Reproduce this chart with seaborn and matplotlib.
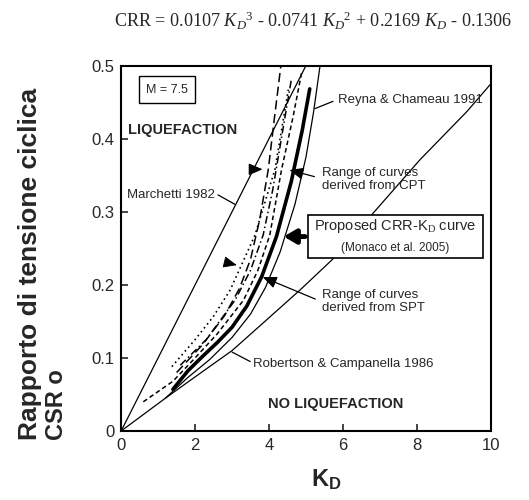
import matplotlib
matplotlib.use('Agg')
import matplotlib.pyplot as plt
import seaborn as sns
from matplotlib.patches import Rectangle

# Curve (K_D, CRR)
kd_marchetti = [0, 1, 2, 3, 4, 5]
crr_marchetti = [0, 0.1, 0.2, 0.3, 0.4, 0.5]

kd_robertson = [0, 1.2, 2.0, 3.0, 4.0, 4.84, 5.7, 6.78, 8.08, 9.35, 10]
crr_robertson = [0, 0.045, 0.074, 0.11, 0.155, 0.193, 0.234, 0.296, 0.371, 0.437, 0.475]

kd_reyna = [1.2, 1.8, 2.4, 3.0, 3.5, 3.9, 4.3, 4.7, 5.0, 5.2, 5.38]
crr_reyna = [0.045, 0.073, 0.098, 0.128, 0.16, 0.196, 0.245, 0.31, 0.375, 0.435, 0.5]

kd_proposed = [1.4, 1.8, 2.2, 2.6, 3.0, 3.4, 3.8, 4.2, 4.6, 4.9, 5.1]
crr_proposed = [0.057, 0.082, 0.102, 0.121, 0.142, 0.171, 0.211, 0.266, 0.341, 0.412, 0.468]

# fascio di curve da CPT / SPT
kd_range1 = [1.5, 2.2, 2.8, 3.2, 3.5, 3.75, 3.98, 4.15, 4.32]
crr_range1 = [0.08, 0.118, 0.158, 0.195, 0.235, 0.29, 0.358, 0.43, 0.5]
kd_range2 = [1.37, 2.0, 2.5, 2.95, 3.62, 4.16, 4.52]
crr_range2 = [0.088, 0.125, 0.157, 0.193, 0.268, 0.358, 0.467]
kd_range3 = [1.6, 2.3, 3.08, 3.5, 3.84, 4.1, 4.4, 4.6]
crr_range3 = [0.09, 0.125, 0.179, 0.22, 0.268, 0.33, 0.42, 0.48]
kd_range4 = [0.6, 1.4, 2.0, 2.6, 3.31, 3.7, 4.02, 4.34, 4.65, 4.88]
crr_range4 = [0.04, 0.068, 0.1, 0.133, 0.179, 0.22, 0.268, 0.358, 0.43, 0.49]

x_ticks = [0, 2, 4, 6, 8, 10]
y_ticks = [0, 0.1, 0.2, 0.3, 0.4, 0.5]
y_tick_labels = ['0', '0.1', '0.2', '0.3', '0.4', '0.5']

sns.set_theme(style='ticks')
plt.rcParams['font.family'] = ['Liberation Sans', 'DejaVu Sans']
plt.rcParams['mathtext.fontset'] = 'custom'
plt.rcParams['mathtext.rm'] = 'Liberation Serif'
plt.rcParams['mathtext.it'] = 'Liberation Serif:italic'
plt.rcParams['mathtext.bf'] = 'Liberation Sans:bold'

fig = plt.figure(figsize=(5.29, 5.0), dpi=100)
ax = fig.add_axes([0.229, 0.138, 0.699, 0.731])

curves = [
    (kd_marchetti, crr_marchetti, '-', 0.9),
    (kd_robertson, crr_robertson, '-', 0.9),
    (kd_reyna, crr_reyna, '-', 0.9),
    (kd_range1, crr_range1, (0, (6, 3)), 1.1),
    (kd_range2, crr_range2, (0, (1, 2)), 1.2),
    (kd_range3, crr_range3, (0, (5, 2, 1, 2)), 1.1),
    (kd_range4, crr_range4, (0, (3, 2)), 1.1),
    (kd_proposed, crr_proposed, '-', 2.6),
]
for xs, ys, ls, lw in curves:
    sns.lineplot(x=xs, y=ys, ax=ax, color='black', linestyle=ls, linewidth=lw,
                 sort=False, estimator=None)

ax.set_xlim(0, 10)
ax.set_ylim(0, 0.5)
ax.set_xticks(x_ticks)
ax.set_xticklabels([str(t) for t in x_ticks])
ax.set_yticks(y_ticks)
ax.set_yticklabels(y_tick_labels)
ax.tick_params(direction='in', length=5, width=1.2, labelsize=12, pad=5)
for s in ax.spines.values():
    s.set_linewidth(1.5)
    s.set_color('black')

# etichette interne
ax.text(1.24, 0.467, 'M = 7.5', fontsize=9, ha='center', va='center',
        bbox=dict(boxstyle='square,pad=0.6', fc='white', ec='black', lw=1))
ax.text(0.19, 0.412, 'LIQUEFACTION', fontsize=10.5, fontweight='bold', va='center')
ax.text(3.97, 0.037, 'NO LIQUEFACTION', fontsize=10.5, fontweight='bold', va='center')
ax.text(0.16, 0.323, 'Marchetti 1982', fontsize=9.5, va='center')
ax.text(5.86, 0.453, 'Reyna & Chameau 1991', fontsize=9.5, va='center')
ax.text(5.43, 0.344, 'Range of curves\nderived from CPT', fontsize=9.5, va='center',
        linespacing=1.1)
ax.text(5.43, 0.177, 'Range of curves\nderived from SPT', fontsize=9.5, va='center',
        linespacing=1.1)
ax.text(3.57, 0.092, 'Robertson & Campanella 1986', fontsize=9.5, va='center')

# riquadro della curva proposta
ax.add_patch(Rectangle((5.05, 0.236), 4.73, 0.06, fc='white', ec='black', lw=1.2, zorder=3))
ax.text(7.42, 0.281, r'Proposed CRR-K$_\mathrm{D}$ curve', fontsize=10.5, ha='center',
        va='center', zorder=4)
ax.text(7.42, 0.251, '(Monaco et al. 2005)', fontsize=8.5, ha='center', va='center', zorder=4)

# linee di richiamo
lead = dict(color='black', lw=0.9)
ax.plot([2.62, 3.08], [0.323, 0.31], **lead)
ax.plot([5.73, 5.24], [0.451, 0.441], **lead)
ax.plot([3.49, 3.0], [0.095, 0.108], **lead)

head = dict(arrowstyle='-|>,head_length=0.7,head_width=0.3', color='black', lw=0.9)
ax.annotate('', xy=(4.48, 0.358), xytext=(5.3, 0.347), arrowprops=head)
ax.annotate('', xy=(3.76, 0.212), xytext=(5.32, 0.179), arrowprops=head)
ax.annotate('', xy=(3.9, 0.358), xytext=(3.55, 0.358), arrowprops=head)
ax.annotate('', xy=(3.2, 0.226), xytext=(2.88, 0.23),
            arrowprops=dict(arrowstyle='-|>,head_length=0.7,head_width=0.3',
                            color='black', lw=0.6, fc='black'))
ax.annotate('', xy=(4.32, 0.266), xytext=(5.05, 0.266),
            arrowprops=dict(arrowstyle='-|>,head_length=0.6,head_width=0.35',
                            color='black', lw=3.5), zorder=2)

# titoli
fig.text(0.592, 0.958,
         r'CRR = 0.0107 $K_D{}^3$ - 0.0741 $K_D{}^2$ + 0.2169 $K_D$ - 0.1306',
         fontsize=13.1, family='Liberation Serif', ha='center', va='center')
fig.text(0.056, 0.12, 'Rapporto di tensione ciclica', rotation=90, fontsize=19,
         fontweight='bold', ha='center', va='bottom')
fig.text(0.106, 0.12, 'CSR o', rotation=90, fontsize=17,
         fontweight='bold', ha='center', va='bottom')
fig.text(0.617, 0.04, r'$\mathbf{K_D}$', fontsize=17, ha='center', va='center')

fig.savefig('out.png', dpi=100)
